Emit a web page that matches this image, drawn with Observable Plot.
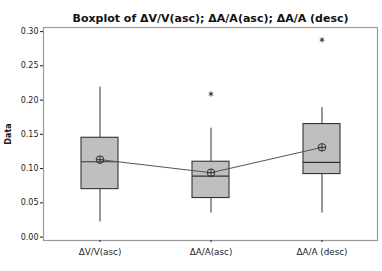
<!DOCTYPE html>
<html>
<head>
<meta charset="utf-8">
<script src="https://cdn.jsdelivr.net/npm/d3@7"></script>
<script src="https://cdn.jsdelivr.net/npm/@observablehq/plot@0.6"></script>
<style>
  html, body { margin: 0; padding: 0; background: #fff; }
  svg { display: block; }
</style>
</head>
<body>
<div id="chart"></div>
<script>
const title = "Boxplot of ΔV/V(asc); ΔA/A(asc); ΔA/A (desc)";
const categories = ["ΔV/V(asc)", "ΔA/A(asc)", "ΔA/A (desc)"];
const whiskerLow  = [0.022, 0.035, 0.035];
const q1          = [0.070, 0.057, 0.092];
const median      = [0.110, 0.089, 0.109];
const q3          = [0.145, 0.110, 0.165];
const whiskerHigh = [0.219, 0.159, 0.189];
const mean        = [0.113, 0.094, 0.131];
const outlierCategory = ["ΔA/A(asc)", "ΔA/A (desc)"];
const outlierValue    = [0.209, 0.288];
const yTicks = [0, 0.05, 0.10, 0.15, 0.20, 0.25, 0.30];

const boxes = categories.map((c, i) => ({
  cat: c, lo: whiskerLow[i], q1: q1[i], med: median[i], q3: q3[i], hi: whiskerHigh[i], mean: mean[i]
}));
const outliers = outlierCategory.map((c, i) => ({cat: c, v: outlierValue[i]}));

const circlePlus = {
  draw(context, size) {
    const r = Math.sqrt(size / Math.PI);
    context.moveTo(r, 0);
    context.arc(0, 0, r, 0, 2 * Math.PI);
    context.moveTo(-r, 0); context.lineTo(r, 0);
    context.moveTo(0, -r); context.lineTo(0, r);
  }
};

const font = "DejaVu Sans, sans-serif";
const inset = 37;

const chart = Plot.plot({
  width: 382,
  height: 271,
  marginLeft: 43,
  marginRight: 5,
  marginTop: 27,
  marginBottom: 31,
  style: {fontFamily: font, fontSize: "8px", color: "#1a1a2a", background: "#fff"},
  x: {type: "band", domain: categories, padding: 0, label: null},
  y: {domain: [-0.005, 0.306], label: null},
  marks: [
    Plot.frame({stroke: "#9a9a9a", strokeWidth: 1.2}),
    Plot.axisY({ticks: yTicks, tickFormat: ".2f", tickSize: 3, tickPadding: 2, label: "Data", labelAnchor: "center", labelOffset: 38, labelArrow: "none", fontSize: 8}),
    Plot.axisX({tickSize: 2, tickPadding: 6, label: null, fontSize: 8.8}),
    Plot.ruleX(boxes, {x: "cat", y1: "lo", y2: "q1", stroke: "#333"}),
    Plot.ruleX(boxes, {x: "cat", y1: "q3", y2: "hi", stroke: "#333"}),
    Plot.barY(boxes, {x: "cat", y1: "q1", y2: "q3", fill: "#bfbfbf", stroke: "#333", strokeWidth: 1.1, insetLeft: inset, insetRight: inset}),
    Plot.tickY(boxes, {x: "cat", y: "med", stroke: "#333", strokeWidth: 1.1, insetLeft: inset, insetRight: inset}),
    Plot.line(boxes, {x: "cat", y: "mean", stroke: "#555", strokeWidth: 1}),
    Plot.dot(boxes, {x: "cat", y: "mean", symbol: circlePlus, r: 3.8, stroke: "#333", fill: "none", strokeWidth: 1}),
    Plot.dot(outliers, {x: "cat", y: "v", symbol: "asterisk", r: 2.4, stroke: "#333", strokeWidth: 1}),
    Plot.text([title], {frameAnchor: "top", dy: -13, text: d => d, fontWeight: "bold", fontSize: 11, fill: "#111"})
  ]
});
chart.querySelectorAll("g[aria-label='y-axis label']").forEach(e => e.setAttribute("font-weight", "bold"));
document.getElementById("chart").append(chart);
</script>
</body>
</html>
